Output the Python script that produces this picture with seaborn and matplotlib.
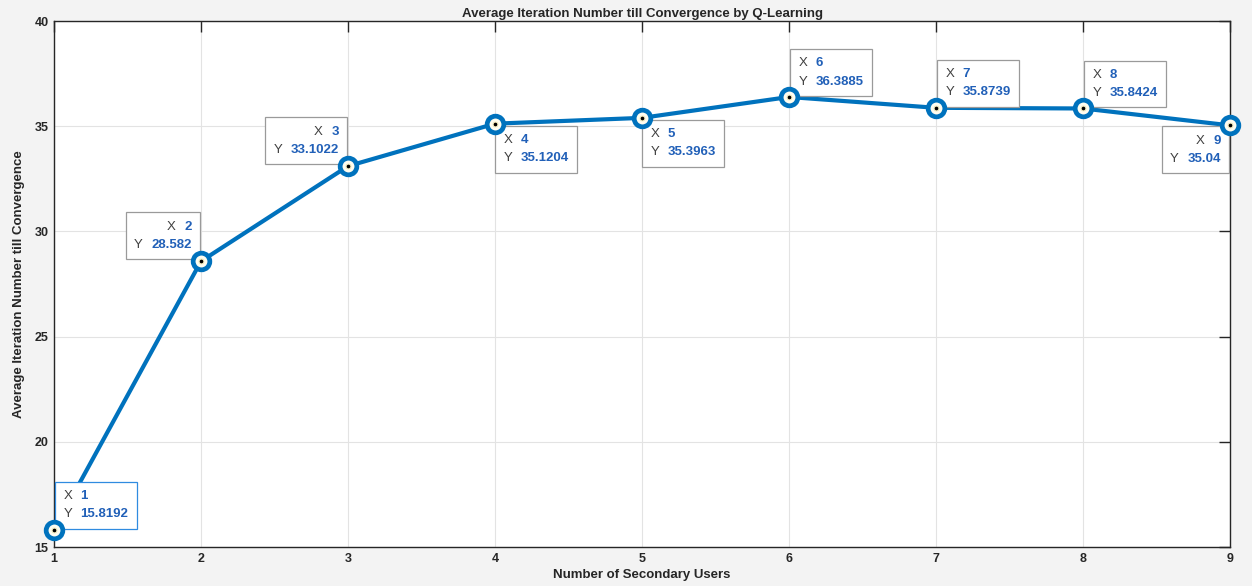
import matplotlib
matplotlib.use("Agg")
import matplotlib.pyplot as plt
import seaborn as sns
import pandas as pd
from matplotlib.offsetbox import TextArea, HPacker, VPacker, AnnotationBbox

# ---- data ----
users = [1, 2, 3, 4, 5, 6, 7, 8, 9]
iterations = [15.8192, 28.582, 33.1022, 35.1204, 35.3963, 36.3885, 35.8739, 35.8424, 35.04]
tip_labels_y = ["15.8192", "28.582", "33.1022", "35.1204", "35.3963", "36.3885", "35.8739", "35.8424", "35.04"]
tip_side = ["tr", "tl", "tl", "br", "br", "tr", "tr", "tr", "bl"]
x_ticks = [1, 2, 3, 4, 5, 6, 7, 8, 9]
y_ticks = [15, 20, 25, 30, 35, 40]

title = "Average Iteration Number till Convergence by Q-Learning"
xlabel = "Number of Secondary Users"
ylabel = "Average Iteration Number till Convergence"

sns.set_style("white")
plt.rcParams["font.family"] = ["Liberation Sans Narrow", "Liberation Sans", "DejaVu Sans"]

LINE = "#0072BD"
VAL = "#2160b8"
BG = "#f3f3f3"

fig = plt.figure(figsize=(12.52, 5.86), dpi=100, facecolor=BG)
ax = fig.add_axes([54 / 1252, 1 - 547 / 586, (1230 - 54) / 1252, (547 - 21) / 586])
ax.set_facecolor("white")

df = pd.DataFrame({"users": users, "iterations": iterations})
sns.lineplot(data=df, x="users", y="iterations", ax=ax, color=LINE, lw=3, zorder=4)
ax.plot(users, iterations, ls="none", marker="o", markersize=12, markeredgewidth=3.4,
        markerfacecolor="#fffdf0", markeredgecolor=LINE, clip_on=False, zorder=8)
ax.plot(users, iterations, ls="none", marker="o", markersize=3.5, markerfacecolor="black",
        markeredgecolor="#f5eec0", markeredgewidth=0.8, clip_on=False, zorder=9)

ax.set_xlim(1, 9)
ax.set_ylim(15, 40)
ax.set_xticks(x_ticks)
ax.set_yticks(y_ticks)
ax.grid(True, color="#e3e3e3", lw=0.8)
ax.set_axisbelow(True)
for s in ax.spines.values():
    s.set_color("#262626")
    s.set_linewidth(1.0)
ax.tick_params(direction="in", length=8, width=1, color="#262626", top=True, right=True,
               labelsize=9, labelcolor="#262626", pad=4)
for lab in ax.get_xticklabels() + ax.get_yticklabels():
    lab.set_fontweight("bold")

ax.set_title(title, fontsize=9.5, fontweight="bold", color="#262626", pad=3,
             family=["Liberation Sans", "DejaVu Sans"])
ax.set_xlabel(xlabel, fontsize=9.5, fontweight="bold", color="#262626", labelpad=3)
ax.set_ylabel(ylabel, fontsize=9.5, fontweight="bold", color="#262626", labelpad=7,
              family=["Liberation Sans", "DejaVu Sans"])

tipfont = ["Liberation Sans", "DejaVu Sans"]
cfg = {
    "tr": ((0, 0), (1, 1), "left"),
    "tl": ((1, 0), (-1, 2), "right"),
    "br": ((0, 1), (0, -2), "left"),
    "bl": ((1, 1), (-1, -1), "right"),
}
for i, (xv, yv) in enumerate(zip(users, iterations)):
    align_box, off, align = cfg[tip_side[i]]
    rows = []
    for lbl, val in (("X", str(users[i])), ("Y", tip_labels_y[i])):
        t1 = TextArea(lbl, textprops=dict(color="#404040", fontsize=9.5, family=tipfont))
        t2 = TextArea(val, textprops=dict(color=VAL, fontsize=9.5, fontweight="bold", family=tipfont))
        rows.append(HPacker(children=[t1, t2], sep=6, align="baseline", pad=0))
    box = VPacker(children=rows, sep=4.5, align=align, pad=6)
    edge = "#2f8be0" if i == 0 else "#9a9a9a"
    ab = AnnotationBbox(box, (xv, yv), xycoords="data", xybox=off, boxcoords="offset pixels",
                        box_alignment=align_box, frameon=True, pad=0,
                        bboxprops=dict(facecolor="white", edgecolor=edge, lw=0.9, boxstyle="square,pad=0"),
                        zorder=6, annotation_clip=False)
    ax.add_artist(ab)

fig.savefig("out.png", dpi=100, facecolor=BG)
